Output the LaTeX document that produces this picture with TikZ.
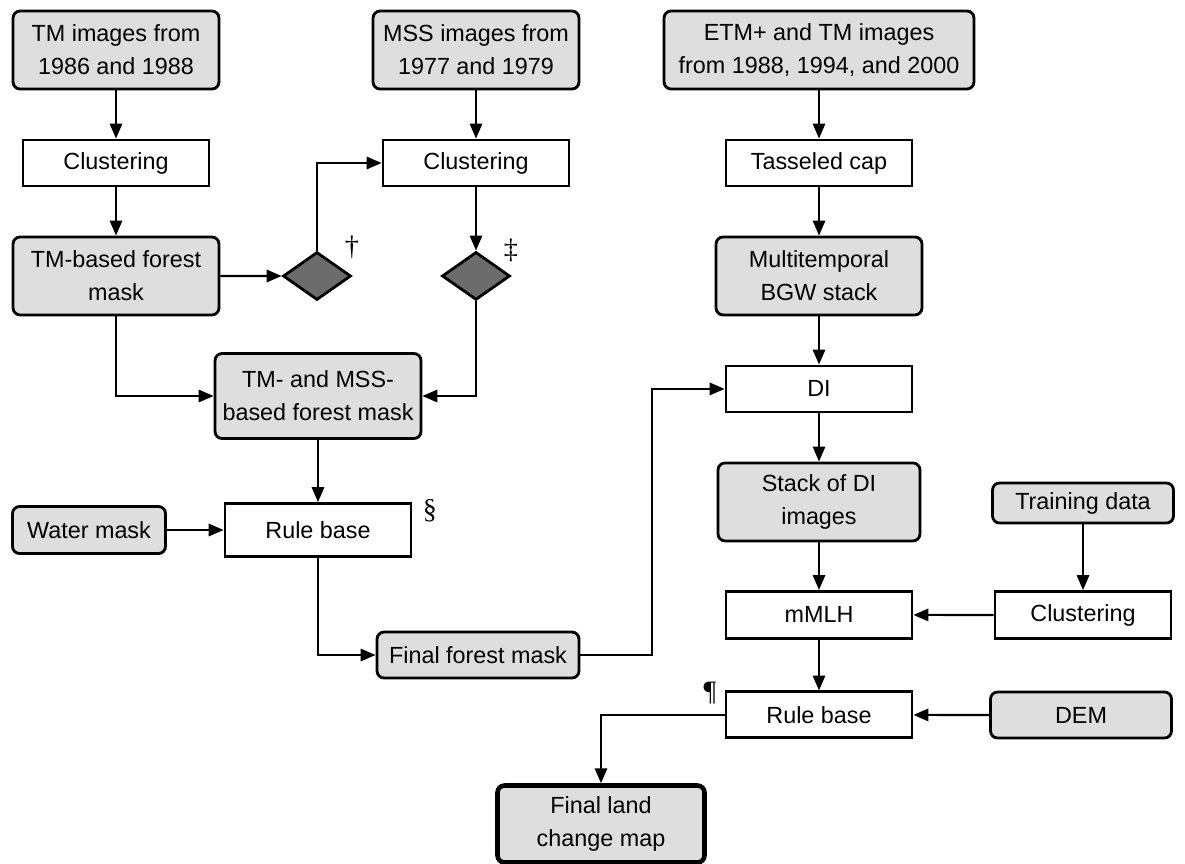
\documentclass[tikz,border=0pt]{standalone}
\usepackage{fontspec}
\setmainfont{Liberation Sans}
\newfontfamily\markfont{Liberation Serif}
\usepackage{tikz}
\usetikzlibrary{arrows.meta,shapes.geometric,positioning}

\definecolor{boxgray}{HTML}{DEDEDE}
\definecolor{checkgray}{HTML}{6C6C6C}

\begin{document}
\begin{tikzpicture}[x=0.02cm,y=-0.02cm,->,>={Triangle[length=8.5pt,width=7pt]},
				line width=1.2pt,node distance=2.26cm,
				every node/.style={font=\fontsize{13.3}{18.7}\selectfont,align=center,inner sep=0pt},
				data node/.style={rectangle,rounded corners=4pt,draw,fill=boxgray,line width=1.6pt,minimum width=4.12cm,minimum height=1.56cm},
				step node/.style={rectangle,draw,fill=white,line width=1.6pt,minimum width=3.72cm,minimum height=0.92cm},
				check node/.style={diamond,draw,fill=checkgray,line width=1.6pt,minimum width=1.36cm,minimum height=0.96cm},
				mark node/.style={font=\markfont\fontsize{16}{16}\selectfont}]
				
				\useasboundingbox (0,0) rectangle (1185,863);
				
				% left part
				\node[data node] (tm) at (116,50) {TM images from\\1986 and 1988};
				\node[step node] (clu1) [below of=tm] {Clustering};
				\node[data node] (tmmask) [below of=clu1] {TM-based forest\\mask};
				\node[check node] (dag) at (317,276) {};
				\node[data node] (mss) at (476,50) {MSS images from\\1977 and 1979};
				\node[step node] (clu2) [below of=mss] {Clustering};
				\node[check node] (ddag) [below of=clu2] {};
				\node[data node,minimum height=1.7cm] (mssmask) at (318,396) {TM- and MSS-\\based forest mask};
				\node[step node,minimum height=1.06cm] (rule1) at (318,530) {Rule base};
				\node[data node,minimum width=3.06cm,minimum height=0.94cm] (water) at (89,530) {Water mask};
				\node[data node,minimum width=4.04cm,minimum height=0.92cm] (ffmask) at (478,655) {Final forest mask};
				
				% right part
				\node[data node,minimum width=6.2cm] (etm) at (819,50) {ETM+ and TM images\\from 1988, 1994, and 2000};
				\node[step node] (tass) [below of=etm] {Tasseled cap};
				\node[data node] (bgw) [below of=tass] {Multitemporal\\BGW stack};
				\node[step node] (di) [below of=bgw] {DI};
				\node[data node,minimum width=4.04cm] (stack) [below of=di] {Stack of DI\\images};
				\node[step node,minimum height=0.94cm] (mmlh) [below of=stack] {mMLH};
				\node[step node] (rule2) [below of=mmlh,node distance=2cm] {Rule base};
				\node[data node,minimum width=3.62cm,minimum height=0.8cm] (train) at (1083,503) {Training data};
				\node[step node,minimum width=3.52cm,minimum height=0.94cm] (clu3) [below of=train,node distance=2.24cm] {Clustering};
				\node[data node,minimum width=3.62cm,minimum height=0.92cm] (dem) at (1081,715) {DEM};
				\node[data node,line width=2.6pt,minimum width=4.14cm,minimum height=1.54cm] (final) at (601,824) {Final land\\change map};
				
				\node[mark node] (m1) at (352,247) {\textdagger};
				\node[mark node] (m2) at (511,250) {\textdaggerdbl};
				\node[mark node] (m3) at (430,511) {\textsection};
				\node[mark node] (m4) at (710,693) {\textparagraph};
				
				\path[every node/.style={font=\small}]
				(tm) edge (clu1)
				(clu1) edge (tmmask)
				(tmmask) edge (dag)
				(mss) edge (clu2)
				(clu2) edge (ddag)
				(mssmask) edge (rule1)
				(water) edge (rule1)
				(etm) edge (tass)
				(tass) edge (bgw)
				(bgw) edge (di)
				(di) edge (stack)
				(stack) edge (mmlh)
				(mmlh) edge (rule2)
				(train) edge (clu3)
				(clu3) edge (mmlh)
				(dem) edge (rule2);
				
				\draw (dag) |- (clu2);
				\draw (tmmask) |- (mssmask);
				\draw (ddag) |- (mssmask);
				\draw (rule1) |- (ffmask);
				\draw (ffmask) -- ++(174,0) |- (di);
				\draw (rule2) -| (final);
				
				\end{tikzpicture}
\end{document}
